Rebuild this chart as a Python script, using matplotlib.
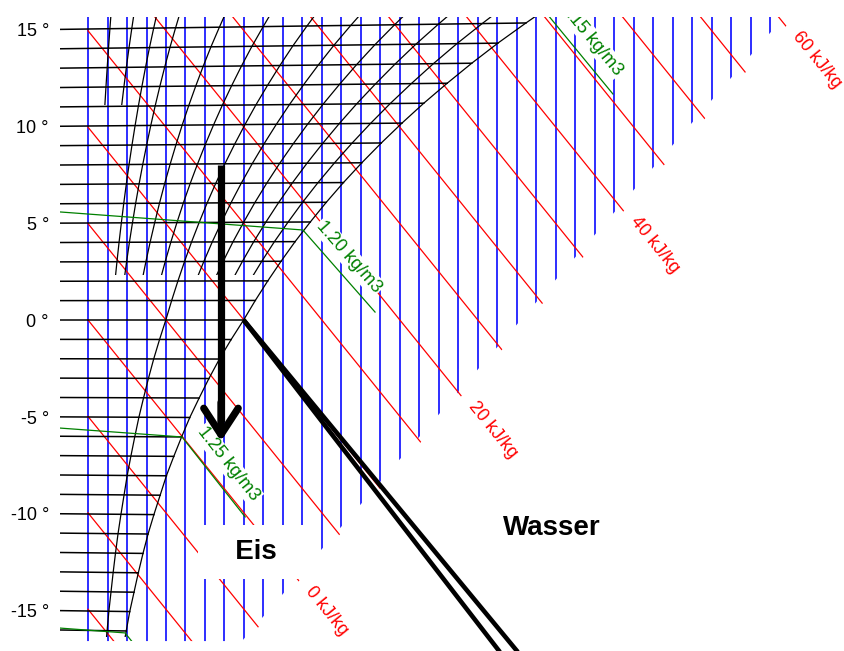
import numpy as np
import matplotlib
matplotlib.use('Agg')
import matplotlib.pyplot as plt
from matplotlib.patches import Polygon, Rectangle

plt.rcParams['font.family'] = ['Liberation Sans', 'DejaVu Sans']

# saturation line of the h-x diagram (water content in g/kg), over ice below 0 °C
sat_t = np.arange(-17, 18)
sat_x = np.array([0.89, 0.98, 1.07, 1.18, 1.29, 1.41, 1.54, 1.69, 1.85, 2.01, 2.20, 2.40,
                  2.61, 2.85, 3.10, 3.37, 3.67, 3.99, 4.29, 4.61, 4.95, 5.31, 5.70, 6.11,
                  6.55, 7.02, 7.52, 8.05, 8.61, 9.21, 9.84, 10.51, 11.23, 11.98, 12.78])

iso_t = np.arange(-16, 16)                     # isotherms every 1 °C
x_lines = np.arange(0, 18, 0.5)                # water content lines, g/kg
h_lines = np.arange(-15, 65, 5)                # enthalpy lines, kJ/kg
h_labels = [0, 20, 40, 60]

# relative humidity curves (%) and the temperature where each group begins
rh_groups = [[50, 100], [15, 20, 30, 40, 60, 70, 80, 90], [5, 10]]
rh_t_low = [-16.35, 2.32, 11.08]

# density lines kg/m3: left end, point on saturation, end in the fog region
dens = [1.15, 1.20, 1.25, 1.30]
dens_left_t = [17.75, 5.57, -5.57, -15.88]
dens_sat_x = [11.72, 5.51, 2.41, 0.95]
dens_sat_t = [15.90, 4.64, -6.03, -16.13]
dens_fog_x = [13.46, 7.36, 4.03, 1.90]
dens_fog_t = [11.65, 0.41, -10.15, -18.50]

# 0 °C isotherm in the fog region (water, ice)
fog_end_x = [11.18, 10.71]
fog_end_t = -17.5

# cooling process
arrow_x = 3.41
arrow_t = [8.0, -6.25]

tick_t = [-15, -10, -5, 0, 5, 10, 15]
tick_labels = ['%d °' % t for t in tick_t]


def skew(t, x):
    # isotherms tilt a little with water content in the Mollier diagram
    return t * (1 + 0.00185 * x)


fig = plt.figure(figsize=(8.44, 6.51), dpi=100)
ax = fig.add_axes([60 / 844, 0, 784 / 844, 634 / 651])
ax.set_xlim(-0.718, 19.385)
ax.set_ylim(-17.062, 15.619)
for s in ax.spines.values():
    s.set_visible(False)
ax.set_xticks([])
ax.set_yticks(tick_t)
ax.set_yticklabels(tick_labels)
ax.tick_params(axis='y', length=0, pad=8, labelsize=13)

x0, x1 = ax.get_xlim()
y_top = ax.get_ylim()[1]
bottom = -16.55


def clip_above(px, py, slope, y_low):
    xa = px + (y_low - py) / slope
    xb = px + (y_top - py) / slope
    return Polygon([(x0, y_top), (x0, y_low), (xa, y_low), (xb, y_top)],
                   closed=True, transform=ax.transData)


def clip_band(y_low):
    return Rectangle((x0, y_low), x1 - x0, y_top - y_low, transform=ax.transData)


blue_edge, blue_slope = (11.03, -0.155), 2.315
red_edge, red_slope = (13.74, 5.62), 2.29

blue_clip = clip_above(*blue_edge, blue_slope, bottom)
for xv in x_lines:
    ln, = ax.plot([xv, xv], [bottom - 1, 17], color='#0000ff', lw=1.15, zorder=1)
    ln.set_clip_path(blue_clip)

red_clip = clip_above(*red_edge, red_slope, bottom)
for h in h_lines:
    xs = np.array([0, 20])
    ln, = ax.plot(xs, (h - 2.501 * xs) / 1.006, color='#ff0000', lw=0.9, zorder=1.5)
    ln.set_clip_path(red_clip)

p0 = ax.transData.transform((0, 0))
p1 = ax.transData.transform((1, -2.501 / 1.006))
h_angle = np.degrees(np.arctan2(p1[1] - p0[1], p1[0] - p0[0]))
ux, uy = np.cos(np.radians(h_angle)), np.sin(np.radians(h_angle))
for h in h_labels:
    xe = (h / 1.006 - red_edge[1] + red_slope * red_edge[0]) / (red_slope + 2.501 / 1.006)
    ye = (h - 2.501 * xe) / 1.006
    ax.annotate('%d kJ/kg' % h, (xe, ye), xytext=(12 * ux - 3 * uy, 12 * uy + 3 * ux),
                textcoords='offset pixels', ha='left', va='center', rotation=h_angle,
                rotation_mode='anchor', color='#ff0000', fontsize=13, zorder=4,
                annotation_clip=False)

for group, t_low in zip(rh_groups, rh_t_low):
    clip = clip_band(t_low)
    for rh in group:
        xs = sat_x * rh / 100
        ln, = ax.plot(xs, skew(sat_t, xs), color='black', lw=0.9, zorder=2)
        ln.set_clip_path(clip)

for t in iso_t:
    xs = sat_x[sat_t == t][0]
    ax.plot([x0, xs], [skew(t, x0), skew(t, xs)], color='black', lw=1.1, zorder=2)

dens_clip = clip_band(bottom)
for i, d in enumerate(dens):
    ln, = ax.plot([x0, dens_sat_x[i], dens_fog_x[i]],
                  [dens_left_t[i], dens_sat_t[i], dens_fog_t[i]],
                  color='#008000', lw=0.9, zorder=2.5)
    ln.set_clip_path(dens_clip)
    if d == 1.30:
        continue
    q0 = ax.transData.transform((dens_sat_x[i], dens_sat_t[i]))
    q1 = ax.transData.transform((dens_fog_x[i], dens_fog_t[i]))
    ang = np.degrees(np.arctan2(q1[1] - q0[1], q1[0] - q0[0]))
    ax.annotate('%.2f kg/m3' % d, (dens_sat_x[i], dens_sat_t[i]), xytext=(46, -27),
                textcoords='offset pixels', ha='center', va='center', rotation=ang,
                rotation_mode='anchor', color='#008000', fontsize=13, zorder=4,
                annotation_clip=False, clip_on=True,
                bbox=dict(facecolor='white', edgecolor='none', pad=1))

x_sat0 = sat_x[sat_t == 0][0]
for xe in fog_end_x:
    ax.plot([x_sat0, xe], [0, fog_end_t], color='black', lw=3.3, zorder=3,
            solid_capstyle='butt')

ax.text(4.31, -11.96, '   Eis   ', fontsize=20, fontweight='bold', ha='center', va='center',
        zorder=4, bbox=dict(facecolor='white', edgecolor='none', pad=10))
ax.text(11.9, -10.72, 'Wasser', fontsize=20, fontweight='bold', ha='center', va='center',
        zorder=4, bbox=dict(facecolor='white', edgecolor='none', pad=4))

ax.plot([arrow_x, arrow_x], [arrow_t[0], arrow_t[1] + 1], color='black', lw=5.2,
        solid_capstyle='butt', zorder=5)
ax.annotate('', xy=(arrow_x, arrow_t[1]), xytext=(arrow_x, arrow_t[1] + 2),
            arrowprops=dict(arrowstyle='->,head_length=0.95,head_width=0.62', lw=5.2,
                            color='black', shrinkA=0, shrinkB=0, mutation_scale=20,
                            capstyle='round', joinstyle='round'), zorder=5)

fig.savefig('out.png', dpi=100)
